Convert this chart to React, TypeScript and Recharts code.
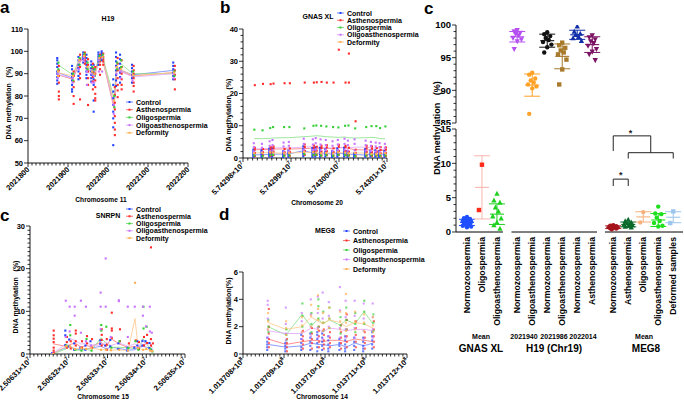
import React from 'react';
import { ComposedChart, Scatter, Line, XAxis, YAxis, ReferenceLine, ReferenceDot, ErrorBar } from 'recharts';

const FONT = "'Liberation Sans', Arial, Helvetica, sans-serif";

// ---------- panels a-d : groups ----------
const GROUP_NAMES = ['Control', 'Asthenospermia', 'Oligospermia', 'Oligoasthenospermia', 'Deformity'];
const DOT_COLORS = ['#2343ff', '#ff2b2b', '#35cf35', '#c873ff', '#ffae52'];
const LINE_COLORS = ['#6f84ff', '#ff7474', '#86e086', '#e0a6ff', '#ffc689'];
const GROUP_SHIFT = [-1, 1, 0.4, -0.4, 0];

// ---------- a: H19, chromosome 11 ----------
const A_POS = [2021875, 2021912, 2021928, 2021940, 2021948, 2021960, 2021966, 2021978, 2021986, 2022015, 2022022, 2022032, 2022062, 2022165];
const A_MEANS = [
  [90.5, 88, 95, 98, 93, 91.5, 90.5, 96.5, 97.5, 76, 93, 91.5, 89.5, 91.5],
  [89.5, 87.5, 94.5, 97.5, 92, 90.5, 89, 96, 97, 74.5, 92, 91, 89, 90.5],
  [94, 89.5, 96.5, 98.5, 94, 92, 91, 97, 98, 79, 94.5, 94.5, 90, 90],
  [89.5, 88, 95.5, 97.5, 91, 89, 88.5, 95.5, 96.5, 75.5, 92.5, 91, 88.5, 90],
  [90.5, 89, 96, 98, 93, 91, 90, 96, 97, 77, 93, 92, 89, 90.5],
];
const A_CONTROL = [[97, 96, 94.5, 93, 91, 90, 88.5, 87, 85.5], [93.5, 92, 90, 88.5, 87, 85, 83, 82], [97.5, 96, 94, 92.5, 91, 89, 87.5], [99.5, 98.5, 97.5, 96.5, 95], [98.5, 97, 95.5, 94, 92.5, 91, 89.5, 88], [95.5, 94, 92.5, 91, 89.5, 88, 86.5], [94, 92, 90.5, 89, 87.5, 85, 78, 73], [99.5, 98.5, 97.5, 96.5, 95.5, 94], [100, 99.2, 98.4, 97.6, 96.8, 96], [87.5, 85, 82, 79, 76, 73, 70, 66, 58], [99.5, 97.5, 95.5, 93.5, 91.5, 89.5, 87, 84.5], [98.5, 96.5, 94.5, 92.5, 90.5, 88.5, 86], [94, 92.5, 91, 89.5, 88, 86], [95, 93.5, 92, 90.5, 89, 87.5]];
const A_ASTHENO = [[93.5, 91.5, 89, 86, 82, 80, 78.5], [91, 89, 86.5, 84, 80, 76.5], [98.5, 96.5, 93, 90, 88, 78.5], [99.5, 98.5, 97.5, 96, 94.5], [96.5, 94, 91, 88, 85, 76], [94.5, 92.5, 90.5, 88.5, 86.5, 83], [93, 90, 87, 84, 81, 79, 78], [98.5, 97, 95.5, 94, 92, 89.5], [99, 97.5, 96.5, 95.5, 94], [84, 80.5, 77, 74, 71, 68, 65, 62.5], [97, 94.5, 91.5, 88, 85, 82.5, 79.5], [96, 93, 90, 87.5, 85, 83], [93.5, 91.5, 90, 88, 86, 84.5, 82], [93.5, 91.5, 89.5, 87.5, 83]];
const A_OLIGO = [[95, 92], [90, 87], [97, 94], [99, 98], [95, 92], [93, 90], [92, 89], [98, 96], [98.5, 97], [80, 75], [95, 92], [96, 93], [91, 89], [91, 89]];
const A_OLIGOASTHENO = [[90, 88], [88, 86], [96, 92], [97.5, 96], [91, 85], [90, 86], [89, 86], [96, 91], [97, 91], [76, 72], [93, 90], [91, 88], [89, 87], [90, 88]];
const A_DEFORM = [[91, 89], [89], [96], [98], [93], [91], [90], [97], [97.5], [78], [93], [92], [89.5], [90.5]];
const A_X_TICKS = [2021800, 2021900, 2022000, 2022100, 2022200];
const A_X_LABELS = ['2021800', '2021900', '2022000', '2022100', '2022200'];
const A_Y_TICKS = [50, 60, 70, 80, 90, 100, 110];

// ---------- b: GNAS XL, chromosome 20 ----------
const B_POS = [57429823, 57429840, 57429856, 57429862, 57429885, 57429896, 57429927, 57429946, 57429952, 57429962, 57429973, 57429987, 57429998, 57430012, 57430019, 57430033, 57430056, 57430067, 57430077, 57430085, 57430096];
const B_MEANS = [
  [1.0, 1.0, 1.1, 1.2, 1.2, 1.3, 2.3, 1.5, 1.4, 1.3, 1.4, 1.2, 1.5, 1.3, 1.2, 1.1, 0.9, 1.2, 1.1, 1.0, 1.0],
  [2.6, 2.6, 2.7, 2.8, 2.8, 2.8, 2.9, 3.1, 3.0, 3.0, 3.0, 2.9, 3.2, 3.2, 3.0, 2.6, 2.5, 2.5, 2.4, 2.3, 2.3],
  [6.0, 6.0, 6.1, 6.2, 6.3, 6.3, 6.6, 6.8, 6.9, 6.8, 6.6, 6.5, 6.4, 6.5, 6.3, 6.2, 6.3, 6.4, 6.3, 6.0, 6.0],
  [2.8, 2.9, 3.0, 3.1, 3.2, 3.1, 3.4, 3.5, 3.4, 3.3, 3.2, 3.1, 3.2, 3.3, 3.0, 3.4, 3.3, 3.2, 3.0, 2.8, 2.6],
  [1.6, 1.6, 1.7, 1.6, 1.5, 1.6, 1.7, 1.8, 1.6, 1.5, 1.6, 1.5, 1.7, 1.6, 1.5, 1.6, 1.5, 1.4, 1.3, 1.4, 1.5],
];
const B_CONTROL = [[0.4, 0.9, 1.4, 2.0, 2.6], [0.3, 0.8, 1.3, 1.9, 2.4], [0.5, 1.0, 1.6, 2.2, 2.9], [0.4, 1.1, 1.7, 2.4, 3.0], [0.3, 0.9, 1.5, 2.1], [0.4, 1.0, 1.6, 2.3], [0.6, 1.3, 2.0, 2.8, 3.6], [0.4, 1.0, 1.7, 2.4, 3.1], [0.5, 1.2, 1.9, 2.6, 3.3], [0.4, 1.1, 1.8, 2.5, 3.2], [0.5, 1.2, 1.9, 2.7], [0.3, 0.9, 1.5, 2.2], [0.4, 1.0, 1.7, 2.4, 3.0], [0.5, 1.2, 1.9, 2.6, 3.2], [0.4, 1.0, 1.6, 2.2], [0.3, 0.8, 1.4], [0.4, 1.0, 1.6, 2.2, 2.8], [0.5, 1.1, 1.7, 2.3], [0.4, 1.0, 1.6, 2.4], [0.3, 0.9, 1.5, 2.1], [0.4, 1.0, 1.6, 2.2]];
const B_ASTHENO = [[0.6, 1.6, 2.6, 3.2, 22.6], [0.8, 1.8, 2.8, 23.0], [0.7, 1.7, 2.7, 3.4, 22.9], [0.9, 2.0, 3.0, 3.6, 23.1], [0.8, 1.8, 2.8, 23.2], [0.7, 1.9, 3.0, 23.2], [1.0, 2.2, 3.4, 4.2, 23.4], [0.9, 2.1, 3.2, 3.9, 23.4], [1.0, 2.3, 3.5, 23.5], [0.8, 2.0, 3.1, 3.8, 23.6], [0.9, 2.1, 3.3, 4.0, 23.4], [0.7, 1.9, 3.0, 23.4], [1.0, 2.2, 3.5, 4.1, 33.6], [0.9, 2.2, 3.4, 3.8, 23.4], [0.8, 2.0, 3.2, 32.4, 23.4], [0.6, 1.6, 2.6, 11.4], [0.8, 1.9, 3.0, 3.8], [0.7, 1.8, 2.9, 3.6], [0.8, 1.9, 3.1], [0.6, 1.5, 2.5, 3.4], [0.7, 1.6, 2.6, 3.3]];
const B_OLIGO = [[0.8, 8.8], [0.6, 8.6], [0.9, 9.3], [1.0, 9.6], [0.7, 9.6], [0.8, 9.6], [1.2, 9.2], [0.9, 10.0], [1.0, 10.1], [0.8, 10.0], [0.9, 9.8], [0.7, 9.6], [1.0, 9.5], [0.9, 10.0], [0.8, 10.1], [0.6, 9.2], [0.8, 9.6], [0.9, 9.9], [0.8, 9.9], [0.7, 9.3], [0.8, 9.8]];
const B_OLIGOASTHENO = [[2.0, 3.4, 4.6], [1.8, 3.2, 4.4], [2.2, 3.8, 5.2], [2.4, 4.0, 5.6], [2.0, 3.6, 4.8], [2.1, 3.8, 5.0], [2.6, 4.4, 6.0], [2.5, 4.2, 5.8], [2.6, 4.6, 6.2], [2.4, 4.2, 5.8], [2.5, 4.0, 5.6], [2.2, 3.8, 5.2], [2.4, 4.2, 5.6], [2.6, 4.4, 6.0], [2.3, 4.0, 5.4], [2.4, 4.4, 5.8], [2.3, 4.0, 5.4], [2.2, 3.8, 5.0], [2.0, 3.6, 4.8], [1.9, 3.4, 4.6], [1.8, 3.2, 4.4]];
const B_DEFORM = [[1.5], [1.6], [1.8], [1.7], [1.5], [1.6], [1.9], [1.8], [1.7], [1.5], [1.6], [1.4], [1.8], [1.7], [1.5], [1.6], [1.4], [1.3], [1.2], [1.4], [1.5]];
const B_X_TICKS = [57429800, 57429900, 57430000, 57430100];
const B_X_LABELS = ['5.74298', '5.74299', '5.74300', '5.74301'];
const B_Y_TICKS = [0, 10, 20, 30, 40];

// ---------- c: SNRPN, chromosome 15 ----------
const C_POS = [25063159, 25063193, 25063203, 25063216, 25063232, 25063245, 25063258, 25063283, 25063296, 25063309, 25063330, 25063353, 25063371, 25063379, 25063392, 25063400, 25063410, 25063415];
const C_MEANS = [
  [0.2, 1.5, 1.8, 1.2, 1.0, 1.2, 1.4, 1.8, 1.2, 1.6, 1.3, 0.9, 1.0, 1.5, 1.8, 1.6, 1.4, 0.8],
  [2.4, 1.8, 2.2, 2.6, 1.6, 2.0, 1.7, 2.8, 1.6, 3.6, 2.4, 1.5, 1.8, 1.4, 2.2, 2.4, 2.6, 1.5],
  [0.0, 1.2, 1.8, 1.0, 0.8, 1.2, 0.8, 3.8, 2.6, 1.5, 1.6, 1.4, 1.3, 1.0, 3.6, 2.5, 1.2, 0.6],
  [0.1, 2.4, 3.6, 3.2, 2.3, 2.6, 2.2, 2.0, 2.8, 2.0, 2.6, 1.8, 2.4, 1.6, 3.0, 2.2, 2.5, 1.8],
  [0.0, 1.8, 1.8, 1.2, 1.4, 1.2, 1.4, 1.0, 1.0, 0.9, 1.0, 0.8, 8.3, 1.4, 1.0, 1.2, 0.8, 0.7],
];
const C_CONTROL = [[0.2], [5.5, 4.4, 2.1], [3.4, 1.8], [2.5, 1.0], [1.5], [2.0, 1.0], [3.0], [3.2, 2.4], [2.0], [3.3, 1.8], [2.5, 1.2], [1.5, 0.8], [1.5], [3.0, 2.0], [3.1, 2.0], [3.0], [2.6, 1.4], [1.0]];
const C_ASTHENO = [[5.5, 4.4, 3.6, 2.8, 1.5, 0.8, 0.3], [4.0, 2.8, 1.5], [3.0, 1.3], [5.5, 4.8, 3.0, 2.0], [3.0, 1.5], [4.2, 2.5], [3.5, 1.5], [5.8, 4.5, 3.3, 2.0], [3.5, 2.2, 1.0], [9.7, 6.0, 5.5, 3.8], [5.8, 3.0], [2.5], [3.2], [2.8, 1.2], [4.0, 2.0], [4.5, 2.6], [25.0, 3.5, 2.0], [2.5]];
const C_OLIGO = [[0], [2.0], [6.8, 4.4], [1.0], [0.8], [3.5], [0.8], [6.8, 5.5], [6.4], [1.5], [3.0], [1.4], [3.0], [1.0], [11.1, 6.0], [6.4], [1.2], [0.6]];
const C_OLIGOASTHENO = [[0.1], [12.5, 4.0], [11.1, 5.3], [11.1, 9.0], [12.5, 5.0], [11.1, 3.0], [2.0], [14.4, 11.1, 5.8], [22.4, 11.1], [4.0], [12.6, 12.4], [11.1, 4.0], [11.1], [1.6], [11.1, 9.0], [6.5], [11.1, 5.3], [5.0]];
const C_DEFORM = [[0], [1.8], [1.8], [1.2], [1.4], [1.2], [1.4], [1.0], [1.0], [0.9], [1.0], [0.8], [16.7], [1.4], [1.0], [1.2], [0.8], [0.7]];
const C_X_TICKS = [25063100, 25063200, 25063300, 25063400, 25063500];
const C_X_LABELS = ['2.50631', '2.50632', '2.50633', '2.50634', '2.50635'];
const C_Y_TICKS = [0, 10, 20, 30];

// ---------- d: MEG8, chromosome 14 ----------
const D_POS = [101370861, 101370905, 101370944, 101370966, 101370983, 101370995, 101371010, 101371037, 101371051, 101371073, 101371095, 101371117];
const D_MEANS = [
  [0.7, 0.5, 0.6, 0.8, 0.7, 0.7, 0.6, 0.7, 0.5, 0.8, 0.6, 0.8],
  [1.1, 0.7, 0.9, 1.0, 1.0, 0.9, 1.0, 1.0, 0.9, 1.1, 1.0, 0.9],
  [2.0, 1.4, 2.9, 2.0, 2.6, 2.2, 2.5, 2.1, 2.5, 2.2, 3.1, 2.2],
  [1.7, 1.5, 1.5, 1.9, 1.8, 1.6, 1.9, 1.8, 1.7, 1.8, 1.8, 1.7],
  [2.3, 1.8, 2.0, 2.7, 2.4, 2.2, 2.5, 2.3, 2.0, 2.3, 2.2, 1.9],
];
const D_CONTROL = [[0.3, 0.5, 0.7, 0.9, 1.2], [0.2, 0.4, 0.6, 0.8], [0.3, 0.5, 0.8, 1.1, 1.4], [0.3, 0.6, 0.9, 1.2, 1.5], [0.2, 0.5, 0.8, 1.1, 1.4, 1.6], [0.3, 0.6, 0.9, 1.2, 1.5], [0.2, 0.4, 0.7, 1.0, 1.3], [0.3, 0.6, 0.8, 1.1], [0.2, 0.4, 0.7, 1.0, 1.3], [0.3, 0.6, 0.9, 1.2], [0.2, 0.4, 0.6, 0.9, 1.2], [0.4, 0.7, 1.0, 1.3, 1.6]];
const D_ASTHENO = [[0.5, 0.8, 1.1, 1.5, 2.0, 3.3], [0.2, 0.5, 0.8, 1.1], [0.4, 0.7, 1.0, 1.3, 1.7], [0.4, 0.8, 1.1, 1.5, 1.9], [0.5, 0.9, 1.3, 1.7, 2.0], [0.4, 0.7, 1.0, 1.4, 1.8], [0.5, 0.8, 1.2, 1.6], [0.4, 0.8, 1.2, 1.6, 2.1], [0.5, 0.9, 1.3, 1.8, 2.5, 2.9], [0.5, 0.9, 1.4, 1.9, 2.4], [0.4, 0.8, 1.2, 1.6], [0.5, 0.9, 1.3, 1.8, 2.4]];
const D_OLIGO = [[1.6, 2.0, 2.5], [1.0, 1.4, 1.8], [2.0, 2.8, 3.7], [1.6, 2.2, 3.0], [2.0, 2.6, 3.5, 4.0], [1.7, 2.3, 3.1], [1.9, 2.6, 3.4], [1.5, 2.1, 2.7], [1.8, 2.5, 3.4], [1.6, 2.2, 3.0], [2.2, 3.1, 3.9], [1.7, 2.3, 2.9]];
const D_OLIGOASTHENO = [[1.2, 1.8, 2.6, 3.6, 3.9], [1.0, 1.5, 2.2, 3.4], [1.1, 1.6, 2.4, 3.0], [1.3, 2.0, 2.9, 4.0], [1.2, 1.9, 3.0, 4.2], [1.1, 1.7, 2.6, 4.5], [1.3, 2.0, 2.8, 3.8], [1.2, 1.9, 3.2, 4.9], [1.2, 1.8, 2.7, 3.9], [1.2, 1.9, 2.8, 3.9], [1.1, 1.7, 2.6, 3.7], [1.2, 1.8, 2.7, 3.7]];
const D_DEFORM = [[1.8, 2.4, 3.0], [1.4, 1.9, 2.4], [1.6, 2.1, 2.7], [2.0, 2.8, 3.6], [1.8, 2.5, 3.3, 4.3], [1.7, 2.3, 3.0], [1.9, 2.6, 3.4], [1.8, 2.4, 3.1], [1.7, 2.3, 3.0, 4.4], [1.8, 2.4, 3.1], [1.7, 2.3, 2.9], [1.6, 2.1, 2.7]];
const D_X_TICKS = [101370800, 101370900, 101371000, 101371100, 101371200];
const D_X_LABELS = ['1.013708', '1.013709', '1.013710', '1.013711', '1.013712'];
const D_Y_TICKS = [0, 2, 4, 6];

// ---------- c (right): means ----------
const GNAS_CATS = ['Normozoospermia', 'Oligospermia', 'Oligoasthenospermia'];
const GNAS_POINTS = [[2.2, 2.0, 1.9, 1.8, 1.7, 1.6, 1.5, 1.4, 1.3, 1.2, 1.1, 1.0, 0.9, 0.8, 0.7], [9.8, 3.2], [5.6, 4.6, 4.3, 3.6, 3.0, 2.3, 2.0, 1.4, 1.0, 0.5]];
const GNAS_MEAN = [1.4, 6.5, 2.6];
const GNAS_SD = [0.45, 4.6, 1.5];
const H19_CATS = ['Normozoospermia', 'Oligoasthenospermia', 'Normozoospermia', 'Oligoasthenospermia', 'Normozoospermia', 'Asthenospermia'];
const H19_SITES = ['2021940', '2021986', '2022014'];
const H19_POINTS = [
  [99.2, 99.0, 98.8, 98.6, 98.4, 98.0, 97.8, 97.5, 96.3],
  [92.7, 92.4, 91.8, 91.5, 91.2, 90.9, 90.6, 90.3, 86.4],
  [98.9, 98.6, 98.3, 98.0, 97.7, 97.4, 97.0, 96.6, 95.8],
  [97.3, 96.9, 96.5, 96.1, 95.8, 95.5, 94.7, 93.2, 90.9],
  [99.8, 99.0, 98.7, 98.5, 98.2, 98.0, 97.6],
  [98.4, 98.1, 97.8, 97.5, 97.2, 96.8, 96.3, 95.9, 95.5, 94.6],
];
const H19_MEAN = [98.2, 90.8, 97.6, 95.2, 98.5, 97.0];
const H19_SD = [0.8, 1.7, 1.0, 1.9, 0.7, 1.2];
const MEG8_CATS = ['Normozoospermia', 'Asthenospermia', 'Oligospermia', 'Oligoasthenospermia', 'Deformed samples'];
const MEG8_POINTS = [[1.0, 0.9, 0.85, 0.8, 0.75, 0.7, 0.65, 0.6, 0.55, 0.5, 0.4], [1.8, 1.6, 1.4, 1.3, 1.2, 1.1, 1.0, 0.9, 0.8, 0.7], [2.9, 1.4], [3.7, 2.7, 2.6, 2.1, 1.6, 1.3, 0.9, 0.8], [3.0, 1.3]];
const MEG8_MEAN = [0.7, 1.1, 2.2, 1.75, 2.15];
const MEG8_SD = [0.2, 0.35, 0.75, 0.95, 0.8];

// styles for right panel
const GNAS_COLORS = ['#1f4fff', '#ff2a1a', '#1fd01f'];
const GNAS_ERR = ['#1f4fff', '#f6b6ae', '#1fd01f'];
const GNAS_SHAPES = ['circle', 'square', 'tri'];
const H19_COLORS = ['#b54ff2', '#ffa126', '#111111', '#a87a2c', '#0f2ea8', '#7b1263'];
const H19_SHAPES = ['triDown', 'circle', 'circle', 'square', 'tri', 'triDown'];
const MEG8_COLORS = ['#a5141c', '#0b6a2b', '#f6b07c', '#1fe01f', '#9dc6ee'];
const MEG8_SHAPES = ['circle', 'tri', 'circle', 'circle', 'square'];

const GNAS_X = GNAS_CATS.map((_, i) => i);
const H19_X = H19_CATS.map((_, i) => 3.35 + i);
const MEG8_X = MEG8_CATS.map((_, i) => 9.75 + i);
const ALL_X = [...GNAS_X, ...H19_X, ...MEG8_X];
const ALL_LABELS = [...GNAS_CATS, ...H19_CATS, ...MEG8_CATS];
const JIT = [0, -0.2, 0.2, -0.1, 0.1, -0.28, 0.28];

const range = (a: number, b: number, s: number) => {
  const out: number[] = [];
  for (let v = a; v <= b + 1e-9; v += s) out.push(Math.round(v * 1000) / 1000);
  return out;
};

function xTick(major: number[], labels: string[], exp: number | null) {
  return (t: any) => {
    const k = major.indexOf(t.payload.value);
    return (
      <g>
        <line x1={t.x} x2={t.x} y1={t.y} y2={t.y + (k >= 0 ? 4 : 2.5)} stroke="#000" strokeWidth={0.8} />
        {k >= 0 && (
          <text transform={`translate(${t.x + 2},${t.y + 7}) rotate(-45)`} textAnchor="end" fontSize={7.5} fontWeight={700} fontFamily={FONT} fill="#000">
            {exp ? labels[k] + '×10' : labels[k]}
            {exp ? <tspan dy={-3} fontSize={5.5}>{exp}</tspan> : null}
          </text>
        )}
      </g>
    );
  };
}

function yTick(major: number[], fs: number) {
  return (t: any) => {
    const v = t.payload.value;
    const isMajor = major.includes(v);
    return (
      <g>
        <line x1={t.x} x2={t.x - (isMajor ? 4 : 2.5)} y1={t.y} y2={t.y} stroke="#000" strokeWidth={0.8} />
        {isMajor && (
          <text x={t.x - 5} y={t.y} dy="0.35em" textAnchor="end" fontSize={fs} fontWeight={700} fontFamily={FONT} fill="#000">{v}</text>
        )}
      </g>
    );
  };
}

type Plot = { x0: number; x1: number; y0: number; y1: number };

function SitePanel(p: {
  pos: number[]; means: number[][]; samples: number[][][];
  xDomain: [number, number]; xMajor: number[]; xLabels: string[]; exp: number | null;
  yDomain: [number, number]; yMajor: number[]; yStep: number;
  plot: Plot; jitter: number; dotOpacity: number;
}) {
  const padL = 45, padT = 15, padR = 14, padB = 50;
  const width = p.plot.x1 - p.plot.x0 + padL + padR;
  const height = p.plot.y1 - p.plot.y0 + padT + padB;
  const xTicks = range(p.xDomain[0], p.xDomain[1], 10);
  const yTicks = range(p.yDomain[0], p.yDomain[1], p.yStep);
  return (
    <div style={{ position: 'absolute', left: p.plot.x0 - padL, top: p.plot.y0 - padT }}>
      <ComposedChart width={width} height={height} margin={{ top: padT, right: padR, bottom: 0, left: 0 }}>
        <XAxis type="number" dataKey="x" domain={p.xDomain} ticks={xTicks} interval={0} allowDataOverflow
          height={padB} tickSize={0} tickMargin={0} tickLine={false} axisLine={{ stroke: '#000', strokeWidth: 0.9 }}
          tick={xTick(p.xMajor, p.xLabels, p.exp)} />
        <YAxis type="number" dataKey="y" domain={p.yDomain} ticks={yTicks} interval={0} allowDataOverflow
          width={padL} tickSize={0} tickMargin={0} tickLine={false} axisLine={{ stroke: '#000', strokeWidth: 0.9 }}
          tick={yTick(p.yMajor, 7.5)} />
        {p.samples.map((g, gi) => (
          <Scatter key={'s' + gi} isAnimationActive={false}
            data={g.flatMap((vals, si) => vals.map((v) => ({ x: p.pos[si] + GROUP_SHIFT[gi] * p.jitter, y: v })))}
            shape={(s: any) => <rect x={s.cx - 1} y={s.cy - 1} width={2.1} height={2.1} fill={DOT_COLORS[gi]} fillOpacity={p.dotOpacity} />} />
        ))}
        {p.means.map((m, gi) => (
          <Line key={'l' + gi} isAnimationActive={false} type="linear" dataKey="y" dot={false}
            data={m.map((v, si) => ({ x: p.pos[si], y: v }))}
            stroke={LINE_COLORS[gi]} strokeWidth={0.8} />
        ))}
      </ComposedChart>
    </div>
  );
}

function Marker({ cx, cy, kind, color }: { cx: number; cy: number; kind: string; color: string }) {
  const s = 2.2;
  if (kind === 'square') return <rect x={cx - s} y={cy - s} width={2 * s} height={2 * s} fill={color} />;
  if (kind === 'tri') return <polygon points={`${cx},${cy - s * 1.3} ${cx - s * 1.2},${cy + s} ${cx + s * 1.2},${cy + s}`} fill={color} />;
  if (kind === 'triDown') return <polygon points={`${cx},${cy + s * 1.3} ${cx - s * 1.2},${cy - s} ${cx + s * 1.2},${cy - s}`} fill={color} />;
  return <circle cx={cx} cy={cy} r={s} fill={color} />;
}

function catSeries(xs: number[], pts: number[][], mean: number[], sd: number[], colors: string[], errColors: string[], shapes: string[], key: string) {
  const out: React.ReactNode[] = [];
  xs.forEach((cx, i) => {
    out.push(
      <Scatter key={key + 'm' + i} isAnimationActive={false} data={[{ x: cx, y: mean[i], sd: sd[i] }]}
        shape={(s: any) => <line x1={s.cx - 7} x2={s.cx + 7} y1={s.cy} y2={s.cy} stroke={errColors[i]} strokeWidth={1.1} />}>
        <ErrorBar dataKey="sd" direction="y" width={8} stroke={errColors[i]} strokeWidth={1} />
      </Scatter>
    );
    out.push(
      <Scatter key={key + 'p' + i} isAnimationActive={false}
        data={pts[i].map((v, j) => ({ x: cx + JIT[j % JIT.length], y: v }))}
        shape={(s: any) => <Marker cx={s.cx} cy={s.cy} kind={shapes[i]} color={colors[i]} />} />
    );
  });
  return out;
}

const R_DOMAIN: [number, number] = [-0.73, 14.4];
const AXIS_SEGMENTS = [[-0.73, 2.4], [2.97, 8.67], [9.2, 14.4]];
const BRACKETS = [
  { x1: 9.75, x2: 12.25, y: 14.0, yl: 11.8, yr: 11.55 },
  { x1: 10.75, x2: 13.75, y: 11.55, yl: 10.7, yr: 10.7 },
  { x1: 9.75, x2: 10.75, y: 7.7, yl: 6.7, yr: 6.7 },
];
const STARS = [{ x: 10.9, y: 14.5 }, { x: 10.25, y: 8.4 }];

function RightPanel() {
  const axisStyle = { stroke: '#000', strokeWidth: 0.9 };
  return (
    <>
      <div style={{ position: 'absolute', left: 416, top: 5 }}>
        <ComposedChart width={268} height={120} margin={{ top: 20, right: 1, bottom: 2, left: 0 }}>
          <XAxis type="number" dataKey="x" domain={R_DOMAIN} allowDataOverflow hide />
          <YAxis type="number" dataKey="y" domain={[85, 100]} ticks={range(85, 100, 1)} interval={0} allowDataOverflow
            width={40} tickSize={0} tickMargin={0} tickLine={false} axisLine={axisStyle} tick={yTick([85, 90, 95, 100], 9.5)} />
          {catSeries(H19_X, H19_POINTS, H19_MEAN, H19_SD, H19_COLORS, H19_COLORS, H19_SHAPES, 'h')}
        </ComposedChart>
      </div>
      <div style={{ position: 'absolute', left: 416, top: 109 }}>
        <ComposedChart width={268} height={233} margin={{ top: 20, right: 1, bottom: 0, left: 0 }}>
          <XAxis type="number" dataKey="x" domain={R_DOMAIN} allowDataOverflow ticks={ALL_X} interval={0}
            height={110} tickSize={0} tickMargin={0} tickLine={false} axisLine={false}
            tick={(t: any) => {
              const k = ALL_X.indexOf(t.payload.value);
              return (
                <text transform={`translate(${t.x + 3.2},${t.y + 5}) rotate(-90)`} textAnchor="end" fontSize={8.7} fontWeight={700} fontFamily={FONT} fill="#000">
                  {ALL_LABELS[k]}
                </text>
              );
            }} />
          <YAxis type="number" dataKey="y" domain={[0, 15]} ticks={range(0, 15, 1)} interval={0} allowDataOverflow
            width={40} tickSize={0} tickMargin={0} tickLine={false} axisLine={axisStyle} tick={yTick([0, 5, 10, 15], 9.5)} />
          {AXIS_SEGMENTS.map(([a, b], i) => (
            <ReferenceLine key={'ax' + i} segment={[{ x: a, y: 0 }, { x: b, y: 0 }]} stroke="#000" strokeWidth={1} ifOverflow="visible" />
          ))}
          {BRACKETS.flatMap((b, i) => [
            <ReferenceLine key={'bt' + i} segment={[{ x: b.x1, y: b.y }, { x: b.x2, y: b.y }]} stroke="#222" strokeWidth={1} ifOverflow="visible" />,
            <ReferenceLine key={'bl' + i} segment={[{ x: b.x1, y: b.y }, { x: b.x1, y: b.yl }]} stroke="#222" strokeWidth={1} ifOverflow="visible" />,
            <ReferenceLine key={'br' + i} segment={[{ x: b.x2, y: b.y }, { x: b.x2, y: b.yr }]} stroke="#222" strokeWidth={1} ifOverflow="visible" />,
          ])}
          {STARS.map((s, i) => (
            <ReferenceDot key={'st' + i} x={s.x} y={s.y} r={0} stroke="none" ifOverflow="visible"
              label={{ value: '*', position: 'center', fontSize: 9, fontWeight: 700, fill: '#222' }} />
          ))}
          {catSeries(GNAS_X, GNAS_POINTS, GNAS_MEAN, GNAS_SD, GNAS_COLORS, GNAS_ERR, GNAS_SHAPES, 'g')}
          {catSeries(MEG8_X, MEG8_POINTS, MEG8_MEAN, MEG8_SD, MEG8_COLORS, MEG8_COLORS, MEG8_SHAPES, 'e')}
        </ComposedChart>
      </div>
    </>
  );
}

function LegendBox({ x, y, gap }: { x: number; y: number; gap: number }) {
  return (
    <g>
      {GROUP_NAMES.map((n, i) => (
        <g key={n}>
          <line x1={x} x2={x + 7} y1={y + i * gap} y2={y + i * gap} stroke={LINE_COLORS[i]} strokeWidth={1} />
          <rect x={x + 2.5} y={y + i * gap - 1} width={2} height={2} fill={DOT_COLORS[i]} />
          <text x={x + 10} y={y + i * gap + 2.5} fontSize={7} fontWeight={700} fontFamily={FONT} fill="#000">{n}</text>
        </g>
      ))}
    </g>
  );
}

function VLabel({ x, y, children, size = 7 }: { x: number; y: number; children: React.ReactNode; size?: number }) {
  return (
    <text transform={`translate(${x},${y}) rotate(-90)`} textAnchor="middle" fontSize={size} fontWeight={700} fontFamily={FONT} fill="#000" style={{ whiteSpace: 'pre' }}>
      {children}
    </text>
  );
}

function Overlay() {
  const t = (x: number, y: number, s: string, size: number, anchor: string = 'middle') => (
    <text x={x} y={y} textAnchor={anchor as any} fontSize={size} fontWeight={700} fontFamily={FONT} fill="#000">{s}</text>
  );
  return (
    <svg width={684} height={402} style={{ position: 'absolute', left: 0, top: 0, pointerEvents: 'none' }}>
      {t(0, 13, 'a', 17, 'start')}
      {t(220, 13, 'b', 17, 'start')}
      {t(0, 221, 'c', 17, 'start')}
      {t(219, 220, 'd', 17, 'start')}
      {t(424, 14, 'c', 17, 'start')}
      {t(108, 21, 'H19', 7)}
      {t(318, 19, 'GNAS XL', 7)}
      {t(108, 218, 'SNRPN', 7)}
      {t(325, 233, 'MEG8', 7)}
      {t(101, 202, 'Chromosome 11', 6.6)}
      {t(317, 205, 'Chromosome 20', 6.6)}
      {t(103, 399, 'Chromosome 15', 6.6)}
      {t(322, 399, 'Chromosome 14', 6.6)}
      <VLabel x={11} y={103}>{'DNA methylation   (%)'}</VLabel>
      <VLabel x={231} y={115}>{'DNA methylation   (%)'}</VLabel>
      <VLabel x={18} y={297}>{'DNA methylation   (%)'}</VLabel>
      <VLabel x={231} y={311}>{'DNA methylation(%)'}</VLabel>
      <VLabel x={440} y={128} size={9}>{'DNA methylation   (%)'}</VLabel>
      <LegendBox x={126} y={102} gap={7.7} />
      <LegendBox x={337} y={13} gap={7.25} />
      <LegendBox x={126} y={209} gap={7.25} />
      <LegendBox x={343} y={231} gap={9.5} />
      {t(481, 339, 'Mean', 7)}
      {t(644, 339, 'Mean', 7)}
      {t(524, 339, H19_SITES[0], 7)}
      {t(554, 339, H19_SITES[1], 7)}
      {t(583, 339, H19_SITES[2], 7)}
      {t(481, 352, 'GNAS XL', 10)}
      {t(554, 352, 'H19 (Chr19)', 10)}
      {t(646, 352, 'MEG8', 10)}
    </svg>
  );
}

export default function App() {
  const shared = { jitter: 2, dotOpacity: 1 };
  return (
    <div style={{ position: 'absolute', left: 0, top: 0, width: 684, height: 402, background: '#fff', overflow: 'hidden', fontFamily: FONT }}>
      <SitePanel {...shared} pos={A_POS} means={A_MEANS} samples={[A_CONTROL, A_ASTHENO, A_OLIGO, A_OLIGOASTHENO, A_DEFORM]}
        xDomain={[2021800, 2022200]} xMajor={A_X_TICKS} xLabels={A_X_LABELS} exp={null}
        yDomain={[50, 110]} yMajor={A_Y_TICKS} yStep={10} plot={{ x0: 28, x1: 188, y0: 29, y1: 163 }} />
      <SitePanel {...shared} jitter={1.5} pos={B_POS} means={B_MEANS} samples={[B_CONTROL, B_ASTHENO, B_OLIGO, B_OLIGOASTHENO, B_DEFORM]}
        xDomain={[57429800, 57430100]} xMajor={B_X_TICKS} xLabels={B_X_LABELS} exp={7}
        yDomain={[0, 40]} yMajor={B_Y_TICKS} yStep={2} plot={{ x0: 243, x1: 387, y0: 29, y1: 158 }} />
      <SitePanel {...shared} pos={C_POS} means={C_MEANS} samples={[C_CONTROL, C_ASTHENO, C_OLIGO, C_OLIGOASTHENO, C_DEFORM]}
        xDomain={[25063100, 25063500]} xMajor={C_X_TICKS} xLabels={C_X_LABELS} exp={7}
        yDomain={[0, 30]} yMajor={C_Y_TICKS} yStep={1} plot={{ x0: 30, x1: 185, y0: 226, y1: 354 }} />
      <SitePanel {...shared} dotOpacity={0.7} pos={D_POS} means={D_MEANS} samples={[D_CONTROL, D_ASTHENO, D_OLIGO, D_OLIGOASTHENO, D_DEFORM]}
        xDomain={[101370800, 101371200]} xMajor={D_X_TICKS} xLabels={D_X_LABELS} exp={8}
        yDomain={[0, 6]} yMajor={D_Y_TICKS} yStep={2} plot={{ x0: 243, x1: 407, y0: 272, y1: 354 }} />
      <RightPanel />
      <Overlay />
    </div>
  );
}
